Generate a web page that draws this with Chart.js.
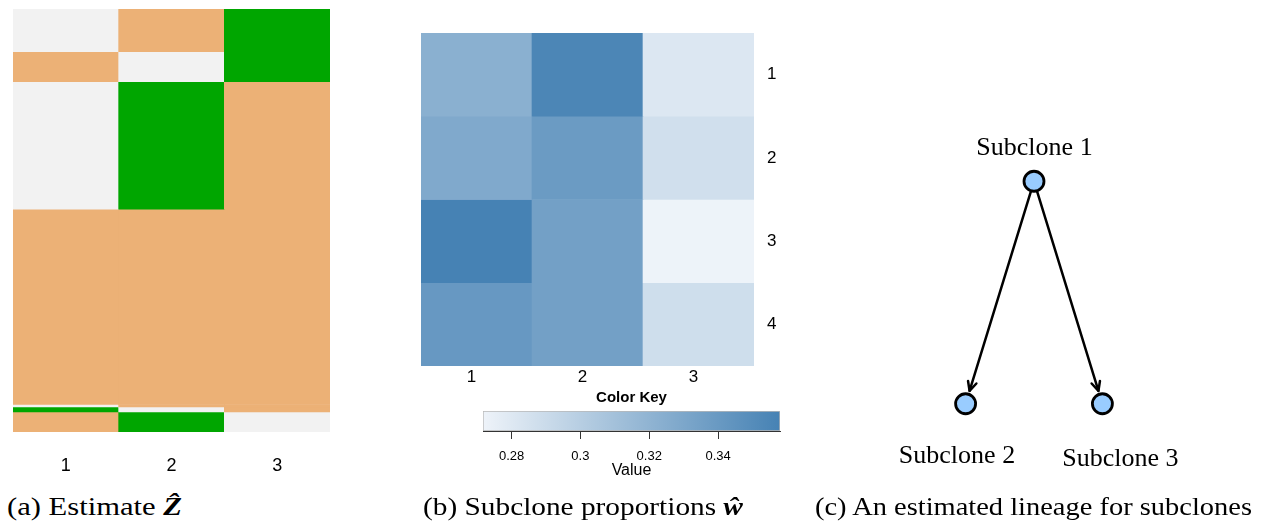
<!DOCTYPE html>
<html><head><meta charset="utf-8">
<script src="https://cdn.jsdelivr.net/npm/chart.js@4.4.1/dist/chart.umd.min.js"></script>
<style>
html,body{margin:0;padding:0;background:#fff;}
#wrap{position:relative;width:1262px;height:523px;overflow:hidden;background:#fff;}
canvas{position:absolute;}
.cap{position:absolute;top:494px;font-family:"Liberation Serif",serif;font-size:26px;line-height:26px;white-space:nowrap;color:#000;transform-origin:0 0;}
.cap b{font-weight:bold;font-style:italic;}
</style></head><body>
<div id="wrap">
  <canvas id="cA" width="345" height="490" style="left:0;top:0"></canvas>
  <canvas id="cB" width="400" height="395" style="left:400px;top:0"></canvas>
  <canvas id="cK" width="321" height="100" style="left:471px;top:385px"></canvas>
  <canvas id="cT" width="342" height="445" style="left:863px;top:70px"></canvas>
  <div class="cap" id="capA" style="left:7px">(a) Estimate <b>Ẑ</b></div>
  <div class="cap" id="capB" style="left:423px">(b) Subclone proportions <b>ŵ</b></div>
  <div class="cap" id="capC" style="left:815px">(c) An estimated lineage for subclones</div>
</div>
<script>
// ---------------- DATA ----------------
// Panel (a): estimated Z; rows (mutations) grouped into consecutive blocks
const zColumns = ['1', '2', '3'];
const zBlockRows = [17, 12, 51, 78, 1, 2, 8];
// state of each block per column: 0 = grey, 1 = orange, 2 = green
const zCol1 = [0, 1, 0, 1, 0, 2, 1];
const zCol2 = [1, 0, 2, 1, 1, 0, 2];
const zCol3 = [2, 2, 1, 1, 1, 1, 0];

// Panel (b): subclone proportions w (rows = samples, columns = subclones)
const wColumns = ['1', '2', '3'];
const wRows = ['1', '2', '3', '4'];
const wRow1 = [0.323, 0.355, 0.281];
const wRow2 = [0.328, 0.339, 0.287];
const wRow3 = [0.358, 0.335, 0.272];
const wRow4 = [0.341, 0.335, 0.288];
const keyMin = 0.2717;
const keyMax = 0.358;
const keyTicks = [0.28, 0.30, 0.32, 0.34];

// Panel (c): lineage tree
const nodeNames = ['Subclone 1', 'Subclone 2', 'Subclone 3'];
const nodeX = [0, -1, 1];
const nodeY = [0, 1, 1];
const edgeFrom = [0, 0];
const edgeTo = [1, 2];

// ---------------- STYLE ----------------
const zPalette = ['#F2F2F2', '#ECB176', '#00A600'];
const wLow = [238, 243, 249];
const wHigh = [70, 130, 180];
const sansFont = 'Liberation Sans';
const serifFont = 'Liberation Serif';
const labelOffsets = [[0.5, -33], [-8.6, 52.5], [18, 55]];
const capTargets = {capA: 175, capB: 320, capC: 437};

function wColor(v) {
  const t = Math.max(0, Math.min(1, (v - keyMin) / (keyMax - keyMin)));
  const c = wLow.map((l, i) => Math.round(l + (wHigh[i] - l) * t));
  return `rgb(${c[0]},${c[1]},${c[2]})`;
}
const rgb = a => `rgb(${a[0]},${a[1]},${a[2]})`;
const common = {responsive: false, animation: false, events: [],
  plugins: {legend: {display: false}, tooltip: {enabled: false}}};

// ---------------- PANEL A ----------------
const zCols = [zCol1, zCol2, zCol3];
new Chart(document.getElementById('cA'), {
  type: 'bar',
  data: {
    labels: zColumns,
    datasets: zBlockRows.map((n, b) => ({
      data: zColumns.map(() => n),
      backgroundColor: zCols.map(col => zPalette[col[b]]),
      borderWidth: 0, barPercentage: 1, categoryPercentage: 1
    }))
  },
  options: Object.assign({}, common, {
    layout: {padding: {left: 13, right: 15, top: 9, bottom: 0}},
    scales: {
      x: {stacked: true, grid: {display: false, drawTicks: false}, border: {display: false},
          ticks: {color: '#000', font: {family: sansFont, size: 18}, padding: 23},
          afterFit: s => { s.height = 58; }},
      y: {stacked: true, reverse: true, min: 0,
          max: zBlockRows.reduce((a, b) => a + b, 0), display: false}
    }
  })
});

// ---------------- PANEL B ----------------
const wData = [wRow1, wRow2, wRow3, wRow4];
new Chart(document.getElementById('cB'), {
  type: 'bar',
  data: {
    labels: wColumns,
    datasets: wData.map(row => ({
      data: row.map(() => 1),
      backgroundColor: row.map(wColor),
      borderWidth: 0, barPercentage: 1, categoryPercentage: 1
    }))
  },
  options: Object.assign({}, common, {
    layout: {padding: {left: 21, right: 0, top: 33, bottom: 0}},
    scales: {
      x: {stacked: true, grid: {display: false, drawTicks: false}, border: {display: false},
          ticks: {color: '#000', font: {family: sansFont, size: 17}, padding: 1, labelOffset: -5},
          afterFit: s => { s.height = 29; }},
      y: {stacked: true, reverse: true, min: 0, max: wRows.length, position: 'right',
          grid: {display: false, drawTicks: false}, border: {display: false},
          afterBuildTicks: s => { s.ticks = wRows.map((_, i) => ({value: i + 0.5})); },
          ticks: {color: '#000', font: {family: sansFont, size: 17}, padding: 13,
                  callback: (v, i) => wRows[i]},
          afterFit: s => { s.width = 46; }}
    }
  })
});

// ---------------- COLOR KEY ----------------
new Chart(document.getElementById('cK'), {
  type: 'bar',
  data: {
    labels: [''],
    datasets: [{
      data: [[keyMin, keyMax]],
      backgroundColor: ctx => {
        const ch = ctx.chart, xs = ch.scales.x;
        if (!ch.chartArea || !xs) return rgb(wHigh);
        const g = ch.ctx.createLinearGradient(xs.getPixelForValue(keyMin), 0, xs.getPixelForValue(keyMax), 0);
        g.addColorStop(0, rgb(wLow)); g.addColorStop(1, rgb(wHigh));
        return g;
      },
      borderColor: '#b8b8b8', borderWidth: 1, borderSkipped: false,
      barPercentage: 1, categoryPercentage: 1
    }]
  },
  options: Object.assign({}, common, {
    indexAxis: 'y',
    layout: {padding: {left: 12, right: 12, top: 0, bottom: 0}},
    plugins: {legend: {display: false}, tooltip: {enabled: false},
      title: {display: true, text: 'Color Key', color: '#000',
              font: {family: sansFont, size: 15, weight: 'bold'}, padding: {top: 4, bottom: 4}}},
    scales: {
      x: {type: 'linear', min: keyMin, max: keyMax,
          afterBuildTicks: s => { s.ticks = keyTicks.map(v => ({value: v})); },
          grid: {display: true, drawOnChartArea: false, tickLength: 8, color: '#333'},
          border: {display: true, color: '#333', width: 1},
          ticks: {color: '#000', font: {family: sansFont, size: 13}, padding: 10,
                  callback: v => String(+v.toFixed(2))},
          title: {display: true, text: 'Value', color: '#000',
                  font: {family: sansFont, size: 16}, padding: {top: 0, bottom: 5}},
          afterFit: s => { s.height = 54; }},
      y: {display: false}
    }
  })
});

// ---------------- PANEL C (tree) ----------------
const treePlugin = {
  id: 'tree',
  beforeDatasetsDraw(chart) {
    const {ctx, scales: {x, y}} = chart;
    ctx.save();
    ctx.strokeStyle = '#000'; ctx.lineWidth = 2.5; ctx.lineCap = 'round'; ctx.lineJoin = 'round';
    edgeFrom.forEach((f, k) => {
      const t = edgeTo[k];
      const x0 = x.getPixelForValue(nodeX[f]), y0 = y.getPixelForValue(nodeY[f]);
      const x1 = x.getPixelForValue(nodeX[t]), y1 = y.getPixelForValue(nodeY[t]);
      const dx = x1 - x0, dy = y1 - y0, L = Math.hypot(dx, dy), ux = dx / L, uy = dy / L;
      const sx = x0 + ux * 10, sy = y0 + uy * 10;
      const ex = x1 - ux * 13.5, ey = y1 - uy * 13.5;
      ctx.beginPath(); ctx.moveTo(sx, sy); ctx.lineTo(ex, ey); ctx.stroke();
      const a = Math.atan2(uy, ux), al = 10, aw = 0.45;
      ctx.beginPath();
      ctx.moveTo(ex - al * Math.cos(a - aw), ey - al * Math.sin(a - aw));
      ctx.lineTo(ex, ey);
      ctx.lineTo(ex - al * Math.cos(a + aw), ey - al * Math.sin(a + aw));
      ctx.stroke();
    });
    ctx.restore();
  },
  afterDatasetsDraw(chart) {
    const {ctx, scales: {x, y}} = chart;
    ctx.save();
    ctx.fillStyle = '#000'; ctx.font = `26px "${serifFont}"`;
    ctx.textAlign = 'center'; ctx.textBaseline = 'middle';
    nodeNames.forEach((n, i) => {
      ctx.fillText(n, x.getPixelForValue(nodeX[i]) + labelOffsets[i][0],
                      y.getPixelForValue(nodeY[i]) + labelOffsets[i][1]);
    });
    ctx.restore();
  }
};
new Chart(document.getElementById('cT'), {
  type: 'scatter',
  data: {datasets: [{
    data: nodeX.map((v, i) => ({x: v, y: nodeY[i]})),
    pointRadius: 10, pointBackgroundColor: '#99CCFF',
    pointBorderColor: '#000', pointBorderWidth: 2.8, showLine: false
  }]},
  options: Object.assign({}, common, {
    layout: {padding: 0, autoPadding: false},
    scales: {
      x: {type: 'linear', min: -2.5, max: 2.5, display: false},
      y: {type: 'linear', min: -0.5, max: 1.5, reverse: true, display: false}
    }
  }),
  plugins: [treePlugin]
});

// ---------------- captions ----------------
function fitCaps() {
  Object.keys(capTargets).forEach(id => {
    const el = document.getElementById(id);
    el.style.transform = 'none';
    const w = el.getBoundingClientRect().width;
    el.style.transform = `scaleX(${capTargets[id] / w})`;
  });
}
fitCaps();
if (document.fonts && document.fonts.ready) document.fonts.ready.then(fitCaps);
</script>
</body></html>
